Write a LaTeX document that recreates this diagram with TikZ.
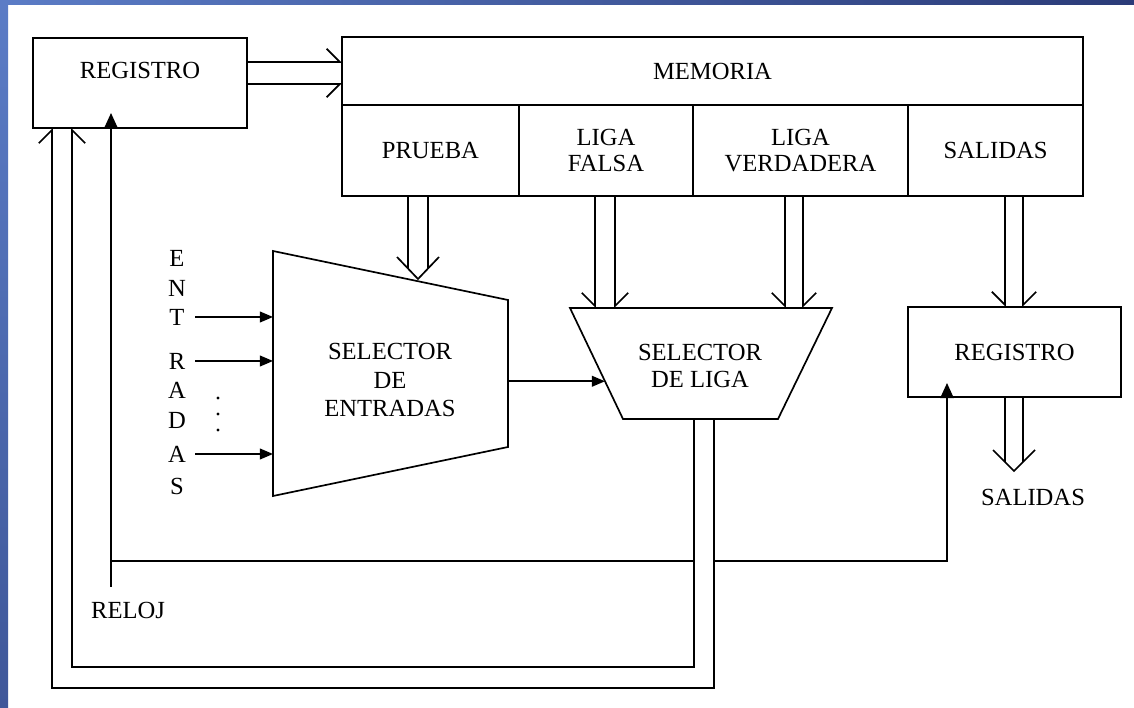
\documentclass[tikz,border=0pt]{standalone}
\usepackage{fontspec}
\setmainfont{Liberation Serif}
\usetikzlibrary{arrows.meta, positioning, calc}
\definecolor{SlideBlue}{HTML}{5B7CC6}
\definecolor{SlideNavy}{HTML}{2B3B78}
\definecolor{SlideMid}{HTML}{3F5799}

\begin{document}
\begin{tikzpicture}[x=0.025cm, y=-0.025cm, line width=1.2pt,
        every node/.style={font=\fontsize{17.5}{19}\selectfont, inner sep=0pt},
        blk/.style={draw, rectangle, outer sep=0pt, minimum height=2.25cm, minimum width=5.35cm},
        cell/.style={draw, rectangle, outer sep=0pt, minimum height=2.275cm, align=center, anchor=north west},
        tri/.style={-{Triangle[length=0.33cm, width=0.27cm]}},
        clktri/.style={-{Triangle[length=0.375cm, width=0.33cm]}},
        barbl/.style={-{Straight Barb[harpoon, length=0.33cm, width=0.66cm, line width=1.2pt]}},
        barbr/.style={-{Straight Barb[harpoon, swap, length=0.33cm, width=0.66cm, line width=1.2pt]}}
    ]

    % Fondo de la diapositiva
    \useasboundingbox (0,0) rectangle (1134,708);
    \fill[white] (0,0) rectangle (1134,708);
    \shade[left color=SlideBlue, right color=SlideNavy] (0,0) rectangle (1134,5);
    \shade[top color=SlideBlue, bottom color=SlideMid] (0,0) rectangle (8,708);

    % Registro de direcciones
    \node[blk] (reg1) at (140,83) {};
    \node[below=0.8cm of reg1.north, anchor=center] (reg1txt) {REGISTRO};

    % Memoria
    \node[draw, outer sep=0pt, minimum width=18.525cm, minimum height=1.7cm] (mem) at (712.5,71) {MEMORIA};
    \node[cell, minimum width=4.425cm] (prueba) at (mem.south west) {PRUEBA};
    \node[cell, minimum width=4.35cm] (falsa) at (prueba.north east) {LIGA\\FALSA};
    \node[cell, minimum width=5.375cm] (verd) at (falsa.north east) {LIGA\\VERDADERA};
    \node[cell, minimum width=4.375cm] (sal) at (verd.north east) {SALIDAS};

    % Registro de salidas
    \node[blk, minimum width=5.325cm] (reg2) at (1014.5,352) {REGISTRO};
    \node (salout) at (1033,497) {SALIDAS};

    % Selector de entradas
    \coordinate (senw) at (273,251);
    \coordinate (sene) at (508,300);
    \coordinate (sese) at (508,447);
    \coordinate (sesw) at (273,496);
    \draw (senw) -- (sene) -- (sese) -- (sesw) -- cycle;
    \node[align=center, font=\fontsize{17.5}{20}\selectfont] (selent) at (390,380) {SELECTOR\\DE\\ENTRADAS};

    % Selector de liga
    \coordinate (slnw) at (570,308);
    \coordinate (slne) at (832,308);
    \coordinate (slse) at (778,419);
    \coordinate (slsw) at (623,419);
    \draw (slnw) -- (slne) -- (slse) -- (slsw) -- cycle;
    \node[align=center] (sellig) at (700,366) {SELECTOR\\DE LIGA};

    % Entradas
    \foreach \c/\y [count=\i] in {E/258, N/288, T/317, R/361, A/390, D/420, A/454, S/486}
        \node (ent\i) at (177,\y) {\c};
    \foreach \i in {3,4,7}
        \draw[tri] ([xshift=0.45cm]ent\i.center) -- (ent\i -| senw);
    \foreach \y in {398,414,430}
        \fill (218,\y) circle (1.1pt);

    % Registro -> Memoria
    \draw[barbl] (reg1.east |- 0,62) -- (mem.west |- 0,62);
    \draw[barbr] (reg1.east |- 0,84) -- (mem.west |- 0,84);

    % Prueba -> Selector de entradas
    \coordinate (pin) at (418,279);
    \draw (pin |- prueba.south) ++(-10,0) -- ++(0,72);
    \draw (pin |- prueba.south) ++(10,0) -- ++(0,72);
    \draw (pin) ++(-21,-22) -- (pin) -- ++(21,-22);

    % Ligas -> Selector de liga
    \draw[barbr] (595,0 |- falsa.south) -- (595,0 |- slnw);
    \draw[barbl] (615,0 |- falsa.south) -- (615,0 |- slnw);
    \draw[barbr] (785,0 |- verd.south) -- (785,0 |- slnw);
    \draw[barbl] (803,0 |- verd.south) -- (803,0 |- slnw);

    % Selector de entradas -> Selector de liga
    \coordinate (slin) at ($(slnw)!0.66!(slsw)$);
    \draw[tri] (slin -| sene) -- (slin);

    % Salidas -> Registro
    \draw[barbr] (1005,0 |- sal.south) -- (1005,0 |- reg2.north);
    \draw[barbl] (1023,0 |- sal.south) -- (1023,0 |- reg2.north);

    % Registro -> salidas
    \coordinate (sout) at (1014,471);
    \draw (sout |- reg2.south) ++(-9,0) -- ++(0,65);
    \draw (sout |- reg2.south) ++(9,0) -- ++(0,65);
    \draw (sout) ++(-21,-21) -- (sout) -- ++(21,-21);

    % Retroalimentacion del selector de liga
    \draw[barbr] (694,0 |- slsw) |- (72,667) -- (72,0 |- reg1.south);
    \draw[barbl] (714,0 |- slsw) |- (52,688) -- (52,0 |- reg1.south);

    % Reloj
    \node (reloj) at (128,610) {RELOJ};
    \coordinate (clk) at (111,587);
    \draw[clktri] (clk) -- (clk |- 0,113);
    \draw (clk |- 0,561) -- (694,561);
    \draw[clktri] (714,561) -| (947,383);

\end{tikzpicture}
\end{document}
